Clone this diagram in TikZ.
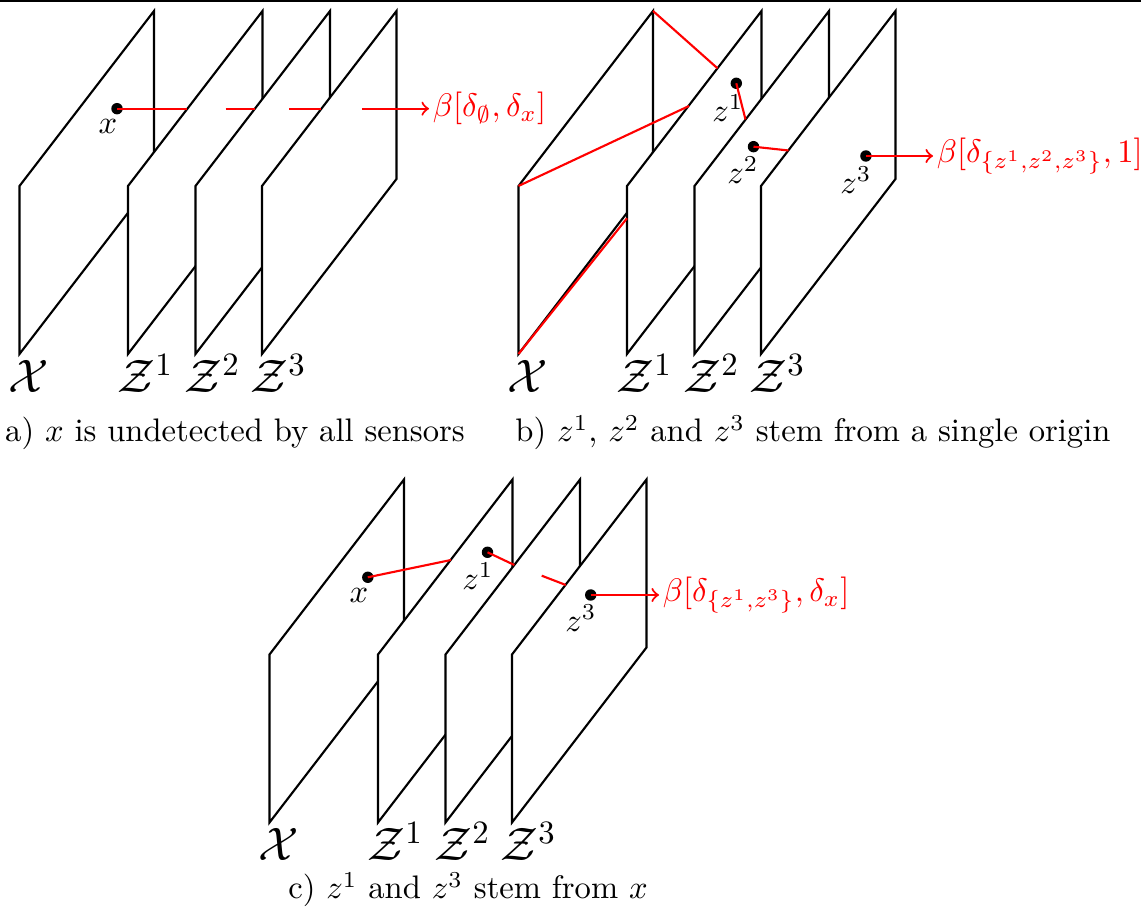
\documentclass[tikz,border=0pt]{standalone}
\usepackage{xcolor}
\usepackage{tikz}
\definecolor{TrackRed}{HTML}{FF0000}
\definecolor{SheetLine}{HTML}{000000}

\begin{document}
\begin{tikzpicture}[x=0.3067pt,y=-0.3067pt,
  sheet/.style={draw=SheetLine,fill=white,line width=0.65pt,line join=miter},
  trk/.style={draw=TrackRed,line width=0.65pt},
  dot/.style={circle,fill=black,inner sep=0pt,minimum size=3.5pt},
  tag/.style={inner sep=0pt},
  spacelab/.style={anchor=base west,inner sep=0pt,font=\Large},
  beta/.style={anchor=west,inner sep=1pt,text=TrackRed},
  captxt/.style={anchor=base,inner sep=0pt}]
\path[use as bounding box] (0,0) rectangle (1141,908);
\draw[line width=0.65pt] (0,1) -- (1141,1);

% a) undetected
\draw[sheet] (19.5,354) -- (19.5,186) -- (154,11) -- (154,179) -- cycle;
\draw[sheet] (128,354) -- (128,186) -- (262.5,11) -- (262.5,179) -- cycle;
\draw[sheet] (195.5,354) -- (195.5,186) -- (330,11) -- (330,179) -- cycle;
\draw[sheet] (262,354) -- (262,186) -- (396.5,11) -- (396.5,179) -- cycle;
\node[dot] (xa) at (117,108.7) {};
\coordinate (a1) at (187,108.7);
\coordinate (a2) at (225.5,108.7);
\coordinate (a3) at (255,108.7);
\coordinate (a4) at (289,108.7);
\coordinate (a5) at (321,108.7);
\coordinate (a6) at (361.8,108.7);
\node[beta] (ba) at (429,108.7) {$\beta[\delta_\emptyset,\delta_x]$};
\draw[trk] (xa.center) -- (a1);
\draw[trk] (a2) -- (a3);
\draw[trk] (a4) -- (a5);
\draw[trk,->] (a6) -- (ba.west);
\node[tag] (xalab) at (108,126.5) {$x$};
\node[spacelab] (Xa) at (8,392.5) {$\mathcal{X}$};
\node[spacelab] (Z1a) at (117,392.5) {$\mathcal{Z}^1$};
\node[spacelab] (Z2a) at (184,392.5) {$\mathcal{Z}^2$};
\node[spacelab] (Z3a) at (250,392.5) {$\mathcal{Z}^3$};
\node[captxt] (capa) at (235,442) {a) $x$ is undetected by all sensors};

% b) single origin
\draw[sheet] (518.5,354) -- (518.5,186) -- (653,11) -- (653,179) -- cycle;
\draw[sheet] (627,354) -- (627,186) -- (761.5,11) -- (761.5,179) -- cycle;
\draw[sheet] (694.5,354) -- (694.5,186) -- (829,11) -- (829,179) -- cycle;
\draw[sheet] (761,354) -- (761,186) -- (895.5,11) -- (895.5,179) -- cycle;
\coordinate (bxtr) at (653,11);
\coordinate (bxtl) at (518.5,186);
\coordinate (bxbl) at (518.5,354);
\coordinate (b1) at (717.5,68.3);
\coordinate (b2) at (689,106);
\coordinate (b3) at (627,218.3);
\coordinate (b4) at (745.5,119.5);
\coordinate (b5) at (788.5,150.5);
\node[dot] (z1b) at (736.3,83.3) {};
\node[dot] (z2b) at (753.5,146.7) {};
\node[dot] (z3b) at (865.9,156) {};
\node[beta] (bb) at (933,156) {$\beta[\delta_{\{z^1,z^2,z^3\}},1]$};
\draw[trk] (bxtr) -- (b1);
\draw[trk] (bxtl) -- (b2);
\draw[trk] (bxbl) -- (b3);
\draw[trk] (z1b.center) -- (b4);
\draw[trk] (z2b.center) -- (b5);
\draw[trk,->] (z3b.center) -- (bb.west);
\node[tag] (z1blab) at (728,108.5) {$z^1$};
\node[tag] (z2blab) at (743,170) {$z^2$};
\node[tag] (z3blab) at (856,180) {$z^3$};
\node[spacelab] (Xb) at (507,392.5) {$\mathcal{X}$};
\node[spacelab] (Z1b) at (616,392.5) {$\mathcal{Z}^1$};
\node[spacelab] (Z2b) at (683,392.5) {$\mathcal{Z}^2$};
\node[spacelab] (Z3b) at (749,392.5) {$\mathcal{Z}^3$};
\node[captxt] (capb) at (813,442) {b) $z^1$, $z^2$ and $z^3$ stem from a single origin};

% c) stem from x
\draw[sheet] (269.5,822.5) -- (269.5,654.5) -- (404,479.5) -- (404,647.5) -- cycle;
\draw[sheet] (378,822.5) -- (378,654.5) -- (512.5,479.5) -- (512.5,647.5) -- cycle;
\draw[sheet] (445.5,822.5) -- (445.5,654.5) -- (580,479.5) -- (580,647.5) -- cycle;
\draw[sheet] (512,822.5) -- (512,654.5) -- (646.5,479.5) -- (646.5,647.5) -- cycle;
\coordinate (c1) at (451,560);
\coordinate (c2) at (514.3,565);
\coordinate (c3) at (541.7,575.7);
\coordinate (c4) at (565.8,585);
\node[dot] (xc) at (367.8,577.3) {};
\node[dot] (z1c) at (487.5,552.3) {};
\node[dot] (z3c) at (590.7,595) {};
\node[beta] (bc) at (659,595) {$\beta[\delta_{\{z^1,z^3\}},\delta_x]$};
\draw[trk] (xc.center) -- (c1);
\draw[trk] (z1c.center) -- (c2);
\draw[trk] (c3) -- (c4);
\draw[trk,->] (z3c.center) -- (bc.west);
\node[tag] (xclab) at (359,595.5) {$x$};
\node[tag] (z1clab) at (478,576.5) {$z^1$};
\node[tag] (z3clab) at (581,618.5) {$z^3$};
\node[spacelab] (Xc) at (258,861) {$\mathcal{X}$};
\node[spacelab] (Z1c) at (367,861) {$\mathcal{Z}^1$};
\node[spacelab] (Z2c) at (434,861) {$\mathcal{Z}^2$};
\node[spacelab] (Z3c) at (500,861) {$\mathcal{Z}^3$};
\node[captxt] (capc) at (468,899) {c) $z^1$ and $z^3$ stem from $x$};
\end{tikzpicture}
\end{document}
